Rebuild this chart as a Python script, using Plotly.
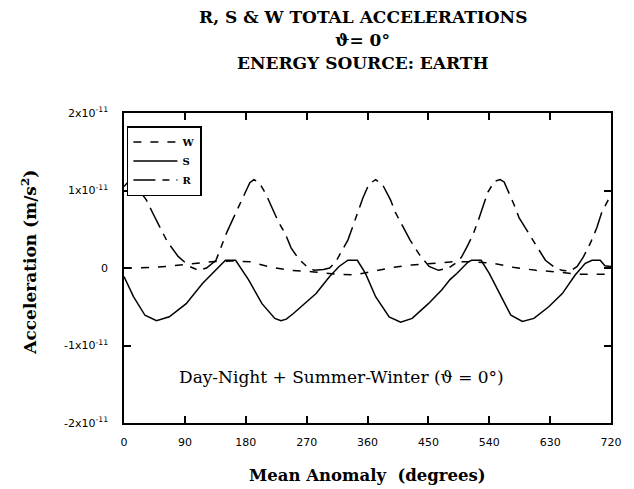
import plotly.graph_objects as go

SCALE = 1e-11  # values below are in units of 1x10^-11 m/s^2

# W component (short dash)
w_deg = [0, 20, 63, 100, 129, 160, 187, 217, 246, 281, 315, 341, 375, 398,
         426, 458, 487, 515, 546, 575, 609, 638, 672, 701, 720]
w_val = [0.0, 0.0, 0.02, 0.05, 0.08, 0.09, 0.08, 0.01, -0.03, -0.05, -0.08,
         -0.09, -0.03, 0.01, 0.04, 0.06, 0.08, 0.08, 0.06, 0.01, -0.03, -0.05,
         -0.08, -0.08, -0.08]

# S component (solid)
s_deg = [0, 14, 31, 48, 67, 92, 116, 136, 150, 165, 184, 204, 223, 232, 240,
         250, 265, 284, 304, 318, 331, 345, 357, 372, 392, 409, 426, 450, 470,
         482, 492, 509, 514, 528, 540, 555, 572, 589, 606, 628, 648, 667, 682,
         692, 704, 711, 720]
s_val = [-0.11, -0.37, -0.61, -0.68, -0.63, -0.46, -0.20, -0.03, 0.10, 0.10,
         -0.15, -0.46, -0.65, -0.68, -0.66, -0.59, -0.48, -0.33, -0.11, 0.02,
         0.10, 0.10, -0.07, -0.37, -0.63, -0.70, -0.65, -0.46, -0.28, -0.15,
         -0.07, 0.08, 0.10, 0.10, -0.07, -0.33, -0.61, -0.69, -0.65, -0.50,
         -0.33, -0.09, 0.06, 0.10, 0.10, 0.03, 0.02]

# R component (long dash - short dash)
r_deg = [0, 8, 20, 33, 43, 53, 64, 80, 97, 110, 122, 136, 145, 152, 162, 172,
         180, 186, 192, 200, 210, 218, 228, 238, 247, 258, 270, 281, 295, 304,
         313, 322, 331, 338, 346, 353, 362, 372, 382, 394, 401, 412, 423, 437,
         451, 465, 480, 490, 499, 508, 516, 524, 531, 538, 548, 556, 562, 570,
         577, 584, 598, 611, 623, 635, 647, 660, 670, 679, 690, 699, 706, 716,
         720]
r_val = [1.05, 1.13, 1.03, 0.88, 0.70, 0.52, 0.34, 0.15, 0.02, -0.03, 0.00,
         0.10, 0.30, 0.46, 0.65, 0.84, 1.00, 1.10, 1.14, 1.10, 0.95, 0.79, 0.60,
         0.45, 0.26, 0.12, 0.02, -0.03, -0.02, 0.00, 0.08, 0.22, 0.36, 0.53,
         0.72, 0.90, 1.08, 1.14, 1.08, 0.88, 0.72, 0.54, 0.36, 0.17, 0.02,
         -0.03, 0.00, 0.06, 0.14, 0.29, 0.43, 0.62, 0.80, 0.98, 1.12, 1.14,
         1.11, 0.96, 0.81, 0.65, 0.45, 0.27, 0.10, 0.02, -0.03, -0.04, 0.02,
         0.14, 0.33, 0.52, 0.71, 0.88, 0.95]

x_ticks = [0, 90, 180, 270, 360, 450, 540, 630, 720]
y_ticks = [-2, -1, 0, 1, 2]
y_ticktext = ["-2x10<sup>-11</sup>", "-1x10<sup>-11</sup>", "0",
              "1x10<sup>-11</sup>", "2x10<sup>-11</sup>"]

title_lines = ["R, S & W TOTAL ACCELERATIONS", "ϑ= 0°", "ENERGY SOURCE: EARTH"]

SERIF = "DejaVu Serif, Liberation Serif, serif"
TICK_FONT = dict(family="DejaVu Sans, sans-serif", size=11, color="black")

# page body adds an 8px offset, so the figure is sized to fit inside it
W, H = 626, 481
ML, MR, MT, MB = 116, 18, 105, 66
PLOT_H = H - MT - MB


def _line(x, y, name, dash):
    return go.Scatter(
        x=x,
        y=[v * SCALE for v in y],
        name=name,
        mode="lines",
        line=dict(color="black", width=1.5, dash=dash),
    )


fig = go.Figure()
fig.add_trace(_line(w_deg, w_val, "W", "8px,9px"))
fig.add_trace(_line(s_deg, s_val, "S", "solid"))
fig.add_trace(_line(r_deg, r_val, "R", "22px,7px,7px,7px"))

# three-line title, one annotation per line
for line, fy in zip(title_lines, [9, 32, 55]):
    fig.add_annotation(
        text=f"<b>{line}</b>",
        x=0.49, y=(H - MB - fy) / PLOT_H,
        xref="paper", yref="paper",
        xanchor="center", yanchor="middle",
        showarrow=False,
        font=dict(family=SERIF, size=17, color="black"),
    )

fig.add_annotation(
    text="Day-Night + Summer-Winter (ϑ = 0°)",
    x=322, y=-1.41 * SCALE,
    xref="x", yref="y",
    showarrow=False,
    font=dict(family=SERIF, size=17, color="black"),
)

# axis titles
fig.add_annotation(
    text="<b>Mean Anomaly  (degrees)</b>",
    x=0.5, y=(H - MB - 467) / PLOT_H,
    xref="paper", yref="paper",
    xanchor="center", yanchor="middle",
    showarrow=False,
    font=dict(family=SERIF, size=16.5, color="black"),
)
fig.add_annotation(
    text="<b>Acceleration (m/s<sup>2</sup>)</b>",
    x=(20 - ML) / (W - ML - MR), y=0.52,
    xref="paper", yref="paper",
    xanchor="center", yanchor="middle",
    textangle=-90,
    showarrow=False,
    font=dict(family=SERIF, size=17, color="black"),
)

fig.update_layout(
    width=W,
    height=H,
    margin=dict(l=ML, r=MR, t=MT, b=MB),
    paper_bgcolor="white",
    plot_bgcolor="white",
    showlegend=True,
    legend=dict(
        x=0.006,
        y=0.958,
        xanchor="left",
        yanchor="top",
        bgcolor="white",
        bordercolor="black",
        borderwidth=1.5,
        itemwidth=44,
        font=dict(family=SERIF, size=10, color="black", weight="bold"),
        tracegroupgap=0,
    ),
)

fig.update_xaxes(
    range=[0, 720],
    tickvals=x_ticks,
    ticks="inside",
    ticklen=7,
    tickwidth=1.5,
    tickcolor="black",
    showline=True,
    linecolor="black",
    linewidth=1.5,
    mirror="ticks",
    showgrid=False,
    zeroline=False,
    tickfont=TICK_FONT,
    ticklabelstandoff=8,
)
fig.update_yaxes(
    range=[-2 * SCALE, 2 * SCALE],
    tickvals=[v * SCALE for v in y_ticks],
    ticktext=y_ticktext,
    ticks="inside",
    ticklen=7,
    tickwidth=1.5,
    tickcolor="black",
    showline=True,
    linecolor="black",
    linewidth=1.5,
    mirror="ticks",
    showgrid=False,
    zeroline=False,
    tickfont=TICK_FONT,
    ticklabelstandoff=12,
)

fig.write_html("out.html")
